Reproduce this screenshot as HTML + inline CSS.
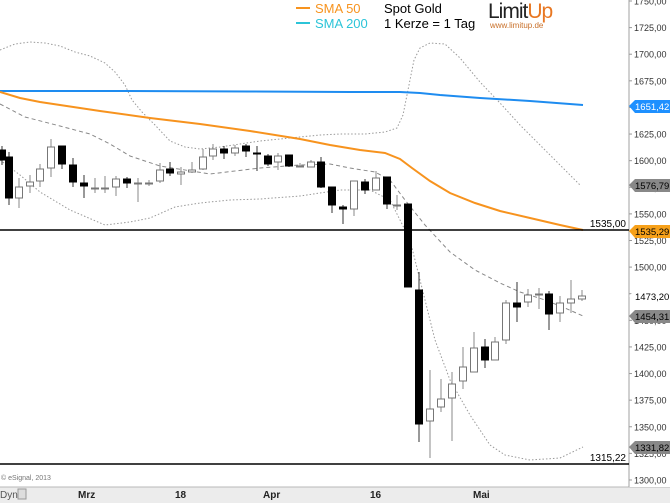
<!DOCTYPE html>
<html><head><meta charset="utf-8"><style>
body{margin:0;background:#fff;}
svg{display:block;font-family:"Liberation Sans",sans-serif;}
</style></head><body>
<svg id="s" width="670" height="503" viewBox="0 0 670 503" xmlns="http://www.w3.org/2000/svg">
<rect width="670" height="503" fill="#fff"/>
<rect x="0" y="487" width="670" height="16" fill="#ececec"/>
<line x1="0" y1="487" x2="670" y2="487" stroke="#b8b8b8"/>
<rect x="629" y="0" width="41" height="487" fill="#fff"/>
<line x1="629" y1="0" x2="629" y2="487" stroke="#a0a0a0"/>
<!-- bollinger -->
<polyline fill="none" stroke="#999" stroke-width="1" stroke-dasharray="1.5,2" points="0,50 15,44 30,42 45,43 60,46 75,52 90,56 105,63 115,72 125,85 132,100 142,112 155,125 170,141 185,147 200,149 220,147 240,144 260,141 280,139 300,137 320,135 340,134 365,134 385,132 397,128 403,115 408,90 414,60 420,48 430,43 445,44 460,58 480,82 500,103 520,125 540,145 560,165 580,185"/>
<polyline fill="none" stroke="#999" stroke-width="1" stroke-dasharray="1.5,2" points="0,160 20,175 40,192 70,210 105,225 130,222 150,218 175,207 200,203 230,200 260,199 300,196 340,190 370,190 390,200 410,240 425,300 435,340 450,380 470,415 490,445 505,455 530,460 560,458 583,447"/>
<polyline fill="none" stroke="#888" stroke-width="1" stroke-dasharray="4,3" points="0,104 25,117 60,126 90,134 110,144 130,156 160,166 210,174 260,168 300,165 330,164 350,168 375,172 390,180 405,200 425,225 450,252 475,270 500,283 520,292 545,300 565,308 583,316"/>
<!-- SMA200 -->
<polyline fill="none" stroke="#1e8cf0" stroke-width="2" points="0,91 120,91 250,91.5 350,92 400,92 420,93 440,95 480,98 530,101 583,105"/>
<!-- SMA50 -->
<polyline fill="none" stroke="#f7931e" stroke-width="2" points="0,92 20,98 40,102 100,111 150,118 200,124 250,131 300,139 330,145 360,150 385,153 400,159 412,168 430,181 450,193 475,203 500,211 530,218 560,225 583,230"/>
<line x1="0" y1="230" x2="629" y2="230" stroke="#000" stroke-width="1.5"/>
<line x1="0" y1="464" x2="629" y2="464" stroke="#000" stroke-width="1.5"/>
<text x="626" y="227" font-size="10" text-anchor="end" fill="#000">1535,00</text>
<text x="626" y="461" font-size="10" text-anchor="end" fill="#000">1315,22</text>
<g id="c"></g>
<g font-size="9" fill="#333" id="ax"></g>
<path d="M629,106 l6,-6 h35 v13 h-35z" fill="#1e90ff"/><text x="635" y="110" font-size="9.5" fill="#fff">1651,42</text>
<path d="M629,185 l6,-6 h35 v13 h-35z" fill="#888"/><text x="635" y="189" font-size="9.5" fill="#000">1576,79</text>
<path d="M629,231 l6,-6 h35 v13 h-35z" fill="#f7a11a"/><text x="635" y="235" font-size="9.5" fill="#000">1535,29</text>
<path d="M629,296 l6,-6 h35 v13 h-35z" fill="#fff"/><text x="635" y="300" font-size="9.5" fill="#000">1473,20</text>
<path d="M629,316 l6,-6 h35 v13 h-35z" fill="#888"/><text x="635" y="320" font-size="9.5" fill="#000">1454,31</text>
<path d="M629,447 l6,-6 h35 v13 h-35z" fill="#888"/><text x="635" y="451" font-size="9.5" fill="#000">1331,82</text>
<line x1="296" y1="8" x2="310" y2="8" stroke="#f7931e" stroke-width="2"/>
<text x="315" y="13" font-size="13" fill="#f7931e">SMA 50</text>
<line x1="296" y1="23" x2="310" y2="23" stroke="#2cc4d8" stroke-width="2"/>
<text x="315" y="28" font-size="13" fill="#2cc4d8">SMA 200</text>
<text x="384" y="13" font-size="13" fill="#000">Spot Gold</text>
<text x="384" y="28" font-size="13" fill="#000">1 Kerze = 1 Tag</text>
<text x="488" y="18" font-size="21" fill="#222" letter-spacing="-1">Limit<tspan fill="#e87722">Up</tspan></text>
<text x="490" y="28" font-size="8" fill="#c8702a">www.limitup.de</text>
<text x="1" y="480" font-size="7" fill="#777">© eSignal, 2013</text>
<text x="0" y="498" font-size="10" fill="#555">Dyn</text>
<rect x="18" y="489" width="8" height="10" fill="#ddd" stroke="#999"/>
<text x="78" y="498" font-size="10" fill="#222" font-weight="bold">Mrz</text>
<text x="175" y="498" font-size="10" fill="#222" font-weight="bold">18</text>
<text x="263" y="498" font-size="10" fill="#222" font-weight="bold">Apr</text>
<text x="370" y="498" font-size="10" fill="#222" font-weight="bold">16</text>
<text x="473" y="498" font-size="10" fill="#222" font-weight="bold">Mai</text>
</svg>
<script>
var d=[[2,150,160,146,165,1],[9,157,198,152,205,1],[19,187,198,178,208,0],[30,182,186,175,193,0],[40,169,181,164,187,0],[51,147,168,139,177,0],[62,146,164,146,169,1],[73,165,182,158,187,1],[84,183,186,175,198,1],[95,188,188,178,193,0],[105,188,188,176,193,0],[116,179,187,176,196,0],[127,179,183,177,188,1],[138,183,183,178,202,0],[149,183,183,180,186,0],[160,170,181,163,183,0],[170,169,173,162,176,1],[181,172,174,167,185,0],[192,170,172,162,173,0],[203,157,169,149,170,0],[213,149,156,144,160,0],[224,149,153,146,159,1],[235,148,153,145,156,0],[246,146,151,144,157,1],[257,153,154,146,171,1],[268,156,164,154,166,1],[278,156,162,153,170,0],[289,155,166,155,167,1],[300,166,166,163,167,0],[311,162,167,160,167,0],[321,162,187,157,188,1],[332,187,205,187,213,1],[343,207,209,205,224,1],[354,181,209,181,216,0],[365,182,190,179,194,1],[376,178,190,171,190,0],[387,177,204,177,209,1],[397,205,205,195,210,0],[408,204,287,204,287,1],[419,290,424,272,442,1],[430,409,421,370,458,0],[441,399,407,379,412,0],[452,384,398,372,441,0],[463,367,381,347,389,0],[474,348,372,332,372,0],[485,347,360,339,368,1],[495,342,360,337,360,0],[506,303,340,300,344,0],[517,303,307,282,322,1],[528,295,302,289,307,0],[539,294,294,288,309,0],[549,294,314,291,330,1],[560,303,313,296,322,0],[571,299,303,280,313,0],[582,296,299,290,301,0]];
var ns="http://www.w3.org/2000/svg",g=document.getElementById("c");
function el(t,a){var e=document.createElementNS(ns,t);for(var k in a)e.setAttribute(k,a[k]);g.appendChild(e);return e;}
d.forEach(function(c){var x=c[0];
el("line",{x1:x,x2:x,y1:c[3],y2:c[4],stroke:c[5]?"#333":"#888","stroke-width":1});
var h=Math.max(1,c[2]-c[1]);
el("rect",{x:x-3.5,y:c[1],width:7,height:h,fill:c[5]?"#000":"#fff",stroke:c[5]?"#000":"#777","stroke-width":1});});
var ax=document.getElementById("ax");
for(var v=1750;v>=1300;v-=25){var y=1+(1750-v)*1.0644;
var l=document.createElementNS(ns,"line");l.setAttribute("x1",629);l.setAttribute("x2",632);l.setAttribute("y1",y);l.setAttribute("y2",y);l.setAttribute("stroke","#999");ax.appendChild(l);
var t=document.createElementNS(ns,"text");t.setAttribute("x",634);t.setAttribute("y",y+3.5);t.textContent=(v+",00");ax.appendChild(t);}
</script>
</body></html>
